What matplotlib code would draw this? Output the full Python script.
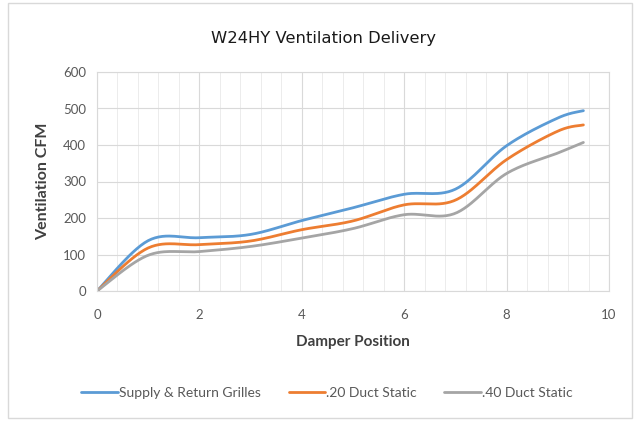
import numpy as np
import matplotlib
matplotlib.use("Agg")
import matplotlib.pyplot as plt
from matplotlib.patches import Rectangle
from matplotlib.ticker import MultipleLocator

damper = [0, 1, 2, 3, 4, 5, 6, 7, 8, 9, 9.5]
grilles = [0, 138, 146, 155, 193, 228, 265, 279, 398, 474, 494]
static_20 = [0, 118, 127, 137, 168, 192, 236, 249, 360, 438, 455]
static_40 = [0, 98, 108, 122, 145, 171, 209, 213, 322, 378, 407]

series_names = ["Supply & Return Grilles", ".20 Duct Static", ".40 Duct Static"]
colors = ["#5B9BD5", "#ED7D31", "#A5A5A5"]


def smooth(xs, ys, n=30):
    """Excel-style smoothed line (Catmull-Rom via cubic Bezier)."""
    p = np.column_stack([xs, ys]).astype(float)
    p = np.vstack([p[0], p, p[-1]])
    t = np.linspace(0, 1, n)[:, None]
    out = []
    for i in range(1, len(p) - 2):
        p0, p1, p2, p3 = p[i - 1], p[i], p[i + 1], p[i + 2]
        c1 = p1 + (p2 - p0) / 6
        c2 = p2 - (p3 - p1) / 6
        seg = ((1 - t) ** 3) * p1 + 3 * ((1 - t) ** 2) * t * c1 + 3 * (1 - t) * t ** 2 * c2 + t ** 3 * p2
        out.append(seg if i == 1 else seg[1:])
    out = np.vstack(out)
    return out[:, 0], out[:, 1]


def main():
    plt.rcParams["font.family"] = ["Lato", "DejaVu Sans"]
    fig = plt.figure(figsize=(6.37, 4.21), dpi=100)
    fig.patches.append(Rectangle((8 / 637, 3 / 421), 624 / 637, 415 / 421, transform=fig.transFigure,
                                 fill=False, edgecolor="#d9d9d9", linewidth=1))

    ax = fig.add_axes([97 / 637, 1 - 291 / 421, 512 / 637, 219 / 421])
    for ys, name, c in zip([grilles, static_20, static_40], series_names, colors):
        sx, sy = smooth(damper, ys)
        ax.plot(sx, sy, color=c, lw=2, label=name, solid_capstyle="round")

    ax.set_xlim(0, 10)
    ax.set_ylim(0, 600)
    ax.xaxis.set_major_locator(MultipleLocator(2))
    ax.xaxis.set_minor_locator(MultipleLocator(0.4))
    ax.yaxis.set_major_locator(MultipleLocator(100))
    ax.grid(which="major", color="#d9d9d9", lw=0.8)
    ax.grid(which="minor", axis="x", color="#ececec", lw=0.7)
    ax.set_axisbelow(True)
    for s in ax.spines.values():
        s.set_color("#d9d9d9")
        s.set_linewidth(0.8)
    ax.tick_params(which="both", length=0, colors="#595959", labelsize=9.5)
    ax.tick_params(axis="x", pad=13)
    ax.tick_params(axis="y", pad=8)

    ax.set_xlabel("Damper Position", fontsize=11, color="#404040", fontweight="bold", labelpad=10)
    ax.set_ylabel("Ventilation CFM", fontsize=11.5, color="#404040", fontweight="bold", labelpad=9)
    fig.text(324 / 637, 1 - 38 / 421, "W24HY Ventilation Delivery",
             ha="center", va="center", fontsize=11.8, color="#1a1a1a", family="DejaVu Sans")

    fig.legend(loc="center", bbox_to_anchor=(327 / 637, 1 - 393 / 421), ncol=3, frameon=False,
               fontsize=10, labelcolor="#595959", handlelength=2.6, handletextpad=0.1,
               columnspacing=2.0)

    fig.savefig("out.png", dpi=100, facecolor="white")


if __name__ == "__main__":
    main()
